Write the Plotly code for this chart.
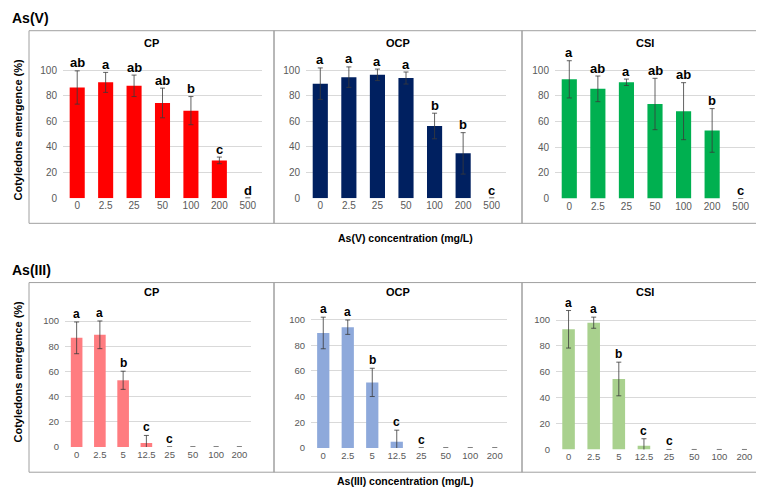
import plotly.graph_objects as go

W, H = 764, 487

# ---------------- data ----------------
cats_v = ["0", "2.5", "25", "50", "100", "200", "500"]
cats_iii = ["0", "2.5", "5", "12.5", "25", "50", "100", "200"]

asv_cp = [86.5, 90.5, 87.8, 74.4, 68.4, 29.5, 0]
asv_cp_err = [13, 7.8, 8.4, 11.6, 11, 2.6, 0]
asv_cp_let = ["ab", "a", "ab", "ab", "b", "c", "d"]

asv_ocp = [89.5, 94.6, 96.4, 93.9, 56.4, 35, 0]
asv_ocp_err = [12.3, 8, 4.5, 4.7, 10, 16.2, 0]
asv_ocp_let = ["a", "a", "a", "a", "b", "b", "c"]

asv_csi = [92.9, 85.5, 90.6, 73.7, 68.1, 53.1, 0]
asv_csi_err = [14.5, 10, 2.5, 20, 22.2, 17, 0]
asv_csi_let = ["a", "ab", "a", "ab", "ab", "b", "c"]

asiii_cp = [86.7, 89.1, 53, 3.2, 0, 0, 0, 0]
asiii_cp_err = [12.6, 11, 7.2, 6, 0, 0, 0, 0]
asiii_cp_let = ["a", "a", "b", "c", "c", "", "", ""]

asiii_ocp = [89.6, 94.1, 51.1, 4.9, 0, 0, 0, 0]
asiii_ocp_err = [12.3, 5.6, 11, 9, 0, 0, 0, 0]
asiii_ocp_let = ["a", "a", "b", "c", "c", "", "", ""]

asiii_csi = [92.9, 98, 54.5, 2.8, 0, 0, 0, 0]
asiii_csi_err = [14.5, 4.3, 13, 5.5, 0, 0, 0, 0]
asiii_csi_let = ["a", "a", "b", "c", "c", "", "", ""]

y_ticks = [0, 20, 40, 60, 80, 100]
panel_names = ["CP", "OCP", "CSI"]

# ---------------- layout helpers ----------------
def px(x):
    return x / W

def py(y):
    return 1 - y / H

FONT = "Liberation Sans, Arial, sans-serif"
TICK_COL = "#595959"
GRID_COL = "#D9D9D9"
FRAME_COL = "#A0A0A0"

panels = [
    # cats, vals, errs, letters, color, xdom(px), y0px, y100px, bar width, tick size, letter size
    (cats_v, asv_cp, asv_cp_err, asv_cp_let, "#FF0000", (55, 254), 192.5, 63, 0.53, 10, 13),
    (cats_v, asv_ocp, asv_ocp_err, asv_ocp_let, "#002060", (298, 498), 192.5, 63, 0.53, 10, 13),
    (cats_v, asv_csi, asv_csi_err, asv_csi_let, "#00B050", (547, 747), 193, 63, 0.53, 10, 13),
    (cats_iii, asiii_cp, asiii_cp_err, asiii_cp_let, "#FF7C80", (57, 243), 444.5, 317, 0.5, 9.5, 12),
    (cats_iii, asiii_ocp, asiii_ocp_err, asiii_ocp_let, "#8EA9DB", (303, 499), 445.5, 315.5, 0.5, 9.5, 12),
    (cats_iii, asiii_csi, asiii_csi_err, asiii_csi_let, "#A9D18E", (548, 749), 447, 316, 0.5, 9.5, 12),
]

fig = go.Figure()
layout = dict(
    width=W, height=H,
    margin=dict(l=0, r=0, t=0, b=0),
    paper_bgcolor="white", plot_bgcolor="white",
    showlegend=False,
    font=dict(family=FONT, color=TICK_COL),
)
annotations = []
shapes = []

def note(x, y, text, size, **kw):
    d = dict(x=x, y=y, xref="paper", yref="paper", text=text, showarrow=False,
             xanchor="center", yanchor="middle",
             font=dict(family=FONT, size=size, color="black"))
    d.update(kw)
    annotations.append(d)

for i, (cats, vals, errs, lets, col, xd, y0, y100, bw, tfs, lfs) in enumerate(panels):
    n = i + 1
    xa = "x" if n == 1 else f"x{n}"
    ya = "y" if n == 1 else f"y{n}"
    fig.add_trace(go.Bar(
        x=cats, y=vals, xaxis=xa, yaxis=ya,
        marker=dict(color=col, line=dict(width=0)),
        width=bw,
        error_y=dict(type="data", array=errs, visible=True,
                     color="#3A3A3A", thickness=0.8, width=2.5),
        hoverinfo="x+y",
    ))
    per = (y0 - y100) / 100.0
    ytop = y100 - 20 * per  # position of 120
    xkey = "xaxis" if n == 1 else f"xaxis{n}"
    ykey = "yaxis" if n == 1 else f"yaxis{n}"
    layout[xkey] = dict(
        domain=[px(xd[0]), px(xd[1])], anchor=ya, type="category",
        categoryorder="array", categoryarray=cats,
        range=[-0.5, len(cats) - 0.5],
        showgrid=False, zeroline=False, showline=False, ticks="",
        tickangle=0,
        tickfont=dict(family=FONT, size=tfs, color=TICK_COL),
        fixedrange=True,
    )
    layout[ykey] = dict(
        domain=[py(y0), py(ytop)], anchor=xa, range=[0, 120],
        tickvals=y_ticks, ticktext=[str(v) for v in y_ticks],
        showgrid=True, gridcolor=GRID_COL, gridwidth=1,
        zeroline=False, showline=False, ticks="",
        ticklabelstandoff=5,
        tickfont=dict(family=FONT, size=tfs, color=TICK_COL),
        fixedrange=True,
    )
    for k, (v, e, l) in enumerate(zip(vals, errs, lets)):
        if l:
            annotations.append(dict(
                x=k, y=v + e, xref=xa, yref=ya, text=f"<b>{l}</b>",
                showarrow=False, xanchor="center", yanchor="middle", yshift=8,
                font=dict(family=FONT, size=lfs, color="black"),
            ))

# Frames and panel titles
frames = [(21, 266), (266, 514), (514, 760)]
for (a, b), name in zip(frames, panel_names):
    shapes.append(dict(type="rect", xref="paper", yref="paper",
                       x0=px(a), x1=px(b), y0=py(218), y1=py(23),
                       line=dict(color=FRAME_COL, width=1)))
    note(px((a + b) / 2), py(35), f"<b>{name}</b>", 11)
for (a, b), name in zip(frames, panel_names):
    shapes.append(dict(type="rect", xref="paper", yref="paper",
                       x0=px(a), x1=px(b + 1 if b == 760 else b), y0=py(470), y1=py(278),
                       line=dict(color=FRAME_COL, width=1)))
    note(px((a + b) / 2), py(288), f"<b>{name}</b>", 11)

# Section headers
note(px(2), py(10), "<b>As(V)</b>", 14, xanchor="left")
note(px(2), py(265), "<b>As(III)</b>", 14, xanchor="left")

# Axis titles
for yc in (123, 368):
    note(px(10), py(yc), "<b>Cotyledons emergence (%)</b>", 11, textangle=-90)
note(px(397), py(233), "<b>As(V) concentration (mg/L)</b>", 10.5)
note(px(397), py(479), "<b>As(III) concentration (mg/L)</b>", 10.5)

layout["annotations"] = annotations
layout["shapes"] = shapes
fig.update_layout(**layout)
fig.write_html("out.html")
